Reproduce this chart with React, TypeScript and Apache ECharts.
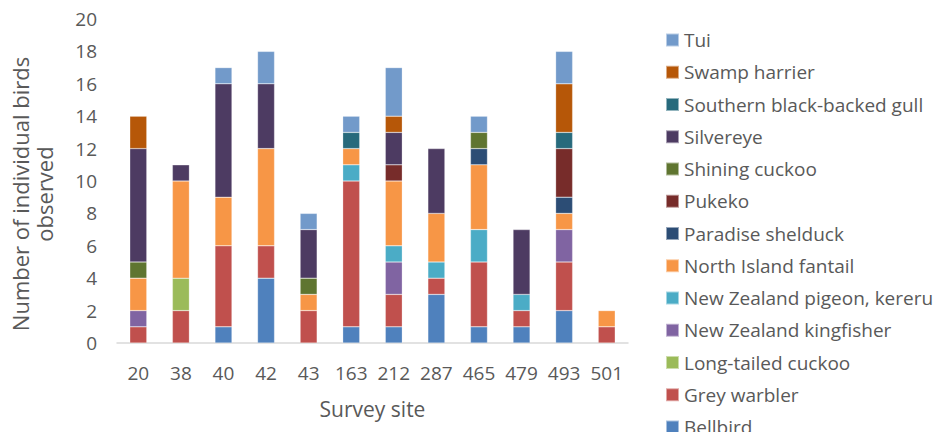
import React, { useEffect, useRef } from "react";
import * as echarts from "echarts";

const sites = ["20", "38", "40", "42", "43", "163", "212", "287", "465", "479", "493", "501"];

const speciesNames = [
  "Bellbird",
  "Grey warbler",
  "Long-tailed cuckoo",
  "New Zealand kingfisher",
  "New Zealand pigeon, kereru",
  "North Island fantail",
  "Paradise shelduck",
  "Pukeko",
  "Shining cuckoo",
  "Silvereye",
  "Southern black-backed gull",
  "Swamp harrier",
  "Tui",
];

// values per site, in order of `sites`
const bellbird = [0, 0, 1, 4, 0, 1, 1, 3, 1, 1, 2, 0];
const greyWarbler = [1, 2, 5, 2, 2, 9, 2, 1, 4, 1, 3, 1];
const longTailedCuckoo = [0, 2, 0, 0, 0, 0, 0, 0, 0, 0, 0, 0];
const nzKingfisher = [1, 0, 0, 0, 0, 0, 2, 0, 0, 0, 2, 0];
const nzPigeon = [0, 0, 0, 0, 0, 1, 1, 1, 2, 1, 0, 0];
const niFantail = [2, 6, 3, 6, 1, 1, 4, 3, 4, 0, 1, 1];
const paradiseShelduck = [0, 0, 0, 0, 0, 0, 0, 0, 1, 0, 1, 0];
const pukeko = [0, 0, 0, 0, 0, 0, 1, 0, 0, 0, 3, 0];
const shiningCuckoo = [1, 0, 0, 0, 1, 0, 0, 0, 1, 0, 0, 0];
const silvereye = [7, 1, 7, 4, 3, 0, 2, 4, 0, 4, 0, 0];
const sbbGull = [0, 0, 0, 0, 0, 1, 0, 0, 0, 0, 1, 0];
const swampHarrier = [2, 0, 0, 0, 0, 0, 1, 0, 0, 0, 3, 0];
const tui = [0, 0, 1, 2, 1, 1, 3, 0, 1, 0, 2, 0];

const seriesValues = [
  bellbird,
  greyWarbler,
  longTailedCuckoo,
  nzKingfisher,
  nzPigeon,
  niFantail,
  paradiseShelduck,
  pukeko,
  shiningCuckoo,
  silvereye,
  sbbGull,
  swampHarrier,
  tui,
];

const colors = [
  "#4F81BD",
  "#C0504D",
  "#9BBB59",
  "#8064A2",
  "#4BACC6",
  "#F79646",
  "#2C4D75",
  "#772C2A",
  "#5F7530",
  "#4D3B62",
  "#276A7C",
  "#B65708",
  "#729ACA",
];

const FONT = "'Open Sans', 'Noto Sans', sans-serif";
const TEXT = "#595959";

export default function App() {
  const ref = useRef<HTMLDivElement>(null);
  useEffect(() => {
    if (!ref.current) return;
    const chart = echarts.init(ref.current, null, { renderer: "svg" });
    chart.setOption({
      animation: false,
      textStyle: { fontFamily: FONT },
      grid: { left: 117, right: 322, top: 19, bottom: 97 },
      legend: {
        orient: "vertical",
        left: 665,
        top: 30.5,
        padding: 0,
        height: 420,
        itemWidth: 13,
        itemHeight: 13,
        itemGap: 13.25,
        icon: "rect",
        data: [...speciesNames].reverse(),
        textStyle: { color: TEXT, fontSize: 19, fontFamily: FONT, lineHeight: 19 },
      },
      xAxis: {
        type: "category",
        data: sites,
        name: "Survey site",
        nameLocation: "middle",
        nameGap: 55,
        nameTextStyle: { color: TEXT, fontSize: 21, fontFamily: FONT },
        axisLine: { lineStyle: { color: "#D9D9D9", width: 1.5 } },
        axisTick: { show: false },
        axisLabel: { color: TEXT, fontSize: 19, margin: 20, fontFamily: FONT },
      },
      yAxis: {
        type: "value",
        min: 0,
        max: 20,
        interval: 2,
        name: "Number of individual birds\nobserved",
        nameLocation: "middle",
        nameGap: 61,
        nameTextStyle: {
          color: TEXT,
          fontSize: 22,
          fontFamily: FONT,
          lineHeight: 24,
          padding: [0, 26, 0, 0],
        },
        axisLine: { show: false },
        axisTick: { show: false },
        splitLine: { show: false },
        axisLabel: { color: TEXT, fontSize: 19, margin: 20, fontFamily: FONT },
      },
      series: speciesNames.map((name, i) => ({
        name,
        type: "bar",
        stack: "total",
        barWidth: 17,
        data: seriesValues[i].map((v) => (v === 0 ? null : v)),
        itemStyle: { color: colors[i], borderColor: "rgba(255,255,255,0.5)", borderWidth: 0.5 },
      })),
    });
    return () => chart.dispose();
  }, []);
  return <div ref={ref} style={{ width: 950, height: 440, margin: -8 }} />;
}
